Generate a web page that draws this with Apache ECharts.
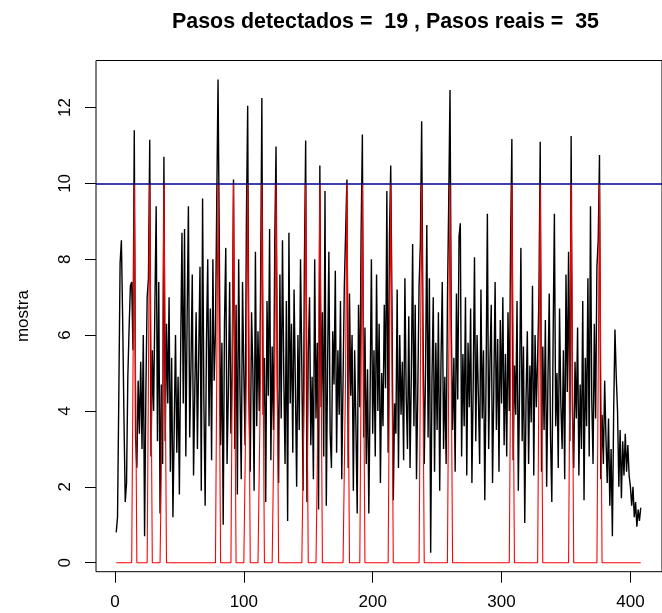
<!DOCTYPE html>
<html><head><meta charset="utf-8">
<script src="https://cdn.jsdelivr.net/npm/echarts@6/dist/echarts.min.js"></script>
<style>html,body{margin:0;padding:0;background:#fff}#c{width:662px;height:613px}</style>
</head><body><div id="c"></div>
<script>
const titleText = 'Pasos detectados =  19 , Pasos reais =  35';
const yName = 'mostra';
const xTicks = [0, 100, 200, 300, 400];
const yTicks = [0, 2, 4, 6, 8, 10, 12];
const threshold = 10;
const mostra = [
0.8,1.2,4.4,7.9,8.5,6.4,3.8,1.6,2.1,4.9,
6.2,7.3,7.4,5.6,11.4,3.3,2.5,4.8,3.4,5.3,
3.0,6.0,0.7,4.5,7.0,7.5,11.15,2.8,5.6,4.0,
6.8,9.4,3.2,7.4,1.3,4.7,2.6,10.7,3.2,6.3,
4.2,7.0,2.4,5.4,1.2,3.6,6.0,2.9,4.9,1.8,
5.6,8.7,4.2,8.8,2.8,6.4,9.4,3.3,5.2,7.6,
2.3,4.6,6.6,3.0,5.5,7.8,1.9,9.6,4.3,1.5,
5.8,8.0,3.6,6.7,2.7,8.0,4.8,6.1,9.5,12.74,
8.3,3.1,5.8,1.0,6.3,8.3,2.6,4.5,7.4,3.4,
5.2,10.1,3.0,6.8,1.8,8.0,4.6,2.2,7.4,5.0,
3.1,9.0,12.05,4.3,2.4,6.6,5.1,1.9,8.2,3.6,
6.1,4.0,7.2,12.25,3.9,5.4,1.6,6.9,4.4,8.8,
2.7,5.7,3.5,8.4,10.97,4.6,2.1,7.6,3.8,8.5,
5.0,2.6,6.9,1.1,8.7,4.2,6.3,2.9,7.2,4.7,
2.0,6.0,3.5,8.0,5.2,1.9,7.8,11.13,1.6,5.5,
7.0,3.1,4.9,2.2,8.0,3.8,5.8,1.4,10.47,4.1,
6.6,2.8,9.8,1.5,5.2,8.2,3.4,2.5,6.1,4.7,
7.7,2.9,5.6,3.9,6.9,2.2,4.8,7.3,7.3,10.1,
2.5,7.1,4.4,6.0,1.9,5.6,3.6,1.3,6.8,4.1,
8.6,11.29,3.3,6.2,2.6,5.1,1.3,4.4,8.0,3.4,
5.6,2.8,7.6,4.0,6.3,2.1,5.0,3.6,6.8,4.6,
9.8,2.9,8.6,10.47,6.7,1.65,4.2,3.4,7.2,2.5,
6.0,3.9,5.3,2.7,7.5,4.4,3.0,6.5,2.5,5.0,
8.4,3.6,6.8,2.2,4.5,7.3,8.4,11.64,6.4,2.6,
5.0,8.9,3.3,7.5,0.26,4.8,7.0,2.4,5.8,3.5,
6.6,1.9,5.3,7.4,3.0,4.9,2.6,6.9,9.5,12.46,
6.2,3.5,5.4,2.4,7.1,4.3,8.6,8.95,2.8,5.5,
3.6,7.0,2.3,5.8,4.1,6.7,2.1,4.7,8.05,3.2,
6.0,4.4,2.6,7.2,3.8,5.6,1.65,4.9,9.2,3.0,
5.3,6.8,2.1,4.6,7.4,3.5,5.9,2.4,6.4,4.2,
7.0,3.1,5.5,2.8,6.6,4.0,8.4,11.17,2.7,5.2,
3.9,6.9,1.9,4.6,8.3,3.2,5.7,1.05,4.3,6.1,
2.6,5.2,3.7,7.3,2.3,6.0,4.1,5.4,7.0,11.1,
2.4,5.7,3.5,6.4,2.0,4.8,7.1,3.3,1.6,5.9,
9.2,3.6,5.0,2.5,6.7,4.2,3.0,5.6,2.2,7.6,
4.5,8.2,3.2,11.25,4.0,2.5,5.3,3.8,6.2,2.3,
4.7,3.0,6.9,1.65,5.4,3.6,7.5,2.8,9.4,4.3,
2.6,6.3,3.8,7.8,8.5,10.75,2.2,3.9,2.6,4.8,
3.3,2.1,3.8,1.5,3.0,0.7,4.0,6.15,4.9,4.0,
2.0,3.5,1.7,3.2,2.3,3.4,2.4,3.1,2.3,2.0,
1.5,2.0,1.2,1.6,0.95,1.4,1.1,1.45
];
// detected step positions (sample index) and red marker levels
const detectedSteps = [15,27,38,80,92,103,114,125,148,159,180,192,214,238,260,308,330,354,376];
const sideLevel = 5;
const stepLevel = 10;

const blackData = mostra.map((v, i) => [i + 1, v]);
const redVals = mostra.map(() => 0);
detectedSteps.forEach(p => { redVals[p - 2] = sideLevel; redVals[p - 1] = stepLevel; redVals[p] = sideLevel; });
const redData = redVals.map((v, i) => [i + 1, v]);

const font = 'Liberation Sans, Arial, sans-serif';
const chart = echarts.init(document.getElementById('c'), null, {renderer: 'canvas'});
chart.setOption({
  animation: false,
  backgroundColor: '#fff',
  title: {
    text: titleText, left: 380.5, top: 7, textAlign: 'center',
    textStyle: {fontFamily: font, fontWeight: 'bold', fontSize: 21.4, color: '#000'}
  },
  grid: {left: 96, right: -11.5, top: 60.5, bottom: 41.3, show: true, borderColor: '#000', borderWidth: 1, containLabel: false},
  xAxis: {
    type: 'value', min: -14.7, max: 424.5,
    axisLine: {show: false, onZero: false},
    axisTick: {show: true, inside: false, length: 11, customValues: xTicks, lineStyle: {color: '#000', width: 1}},
    axisLabel: {customValues: xTicks, margin: 22, fontSize: 17, fontFamily: font, color: '#000'},
    splitLine: {show: false}
  },
  yAxis: {
    type: 'value', min: -0.237, max: 13.24,
    name: yName, nameLocation: 'middle', nameGap: 64, nameRotate: 90,
    nameTextStyle: {fontSize: 17, fontFamily: font, color: '#000'},
    axisLine: {show: false, onZero: false},
    axisTick: {show: true, inside: false, length: 11, customValues: yTicks, lineStyle: {color: '#000', width: 1}},
    axisLabel: {customValues: yTicks, rotate: 90, margin: 22, fontSize: 17, fontFamily: font, color: '#000'},
    splitLine: {show: false}
  },
  series: [
    {type: 'line', data: blackData, showSymbol: false, symbol: 'none', lineStyle: {color: '#000', width: 1.4}, z: 2, silent: true},
    {type: 'line', data: redData, showSymbol: false, symbol: 'none', lineStyle: {color: '#ff0000', width: 1.1}, z: 3, silent: true},
    {type: 'line', data: [], z: 4, silent: true,
     markLine: {silent: true, symbol: 'none', label: {show: false}, animation: false,
       lineStyle: {color: '#00008b', width: 1.5, type: 'solid'},
       data: [{yAxis: threshold}]}}
  ]
});
</script></body></html>
